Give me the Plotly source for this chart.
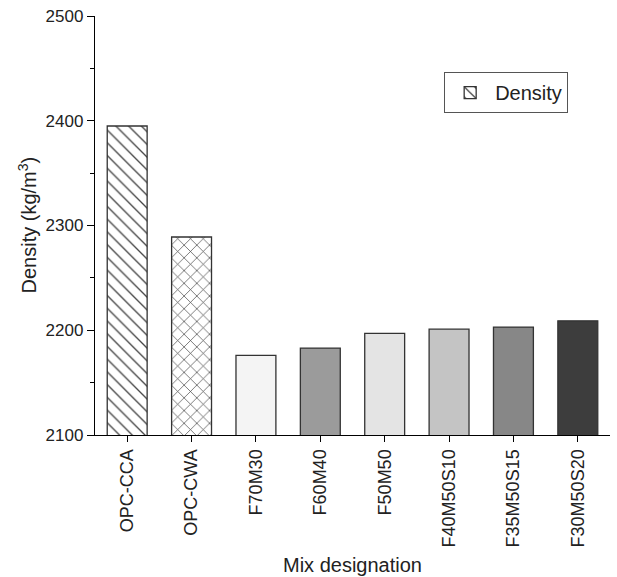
import plotly.graph_objects as go

categories = ["OPC-CCA", "OPC-CWA", "F70M30", "F60M40", "F50M50", "F40M50S10", "F35M50S15", "F30M50S20"]
density = [2395, 2289, 2176, 2183, 2197, 2201, 2203, 2209]
fill_colors = ["white", "white", "#f4f4f4", "#9b9b9b", "#e4e4e4", "#c4c4c4", "#878787", "#3d3d3d"]
patterns = ["\\", "x", "", "", "", "", "", ""]

fig = go.Figure()
fig.add_trace(go.Bar(
    x=categories, y=density, name="Density", width=0.62,
    marker=dict(color=fill_colors, line=dict(color="#333333", width=1.3),
                pattern=dict(shape=patterns, fgcolor="#111111", fgopacity=1, bgcolor="white",
                             size=9, solidity=0.15)),
    showlegend=True,
))

font = "Liberation Sans, Arial, sans-serif"
fig.update_layout(
    width=617, height=577,
    margin=dict(l=95, r=7, t=16, b=142),
    plot_bgcolor="white", paper_bgcolor="white",
    font=dict(family=font, size=17, color="#222222"),
    showlegend=True,
    legend=dict(x=0.678, y=0.866, xanchor="left", yanchor="top",
                bordercolor="#555555", borderwidth=1, bgcolor="white",
                font=dict(size=20), itemwidth=40, tracegroupgap=0),
    xaxis=dict(showline=True, linecolor="black", linewidth=1.3,
               ticks="outside", ticklen=6, tickcolor="black", tickangle=-90,
               tickfont=dict(size=18), automargin=False,
               showgrid=False),
    yaxis=dict(range=[2100, 2500], dtick=100, tick0=2100,
               showline=True, linecolor="black", linewidth=1.3,
               ticks="outside", ticklen=7, tickcolor="black",
               minor=dict(ticks="outside", ticklen=4, dtick=50, tickcolor="black"),
               automargin=False,
               showgrid=False, zeroline=False),
    bargap=0.38,
    annotations=[
        dict(text="Mix designation", xref="paper", yref="paper", x=0.5, y=0,
             yshift=-130, xanchor="center", yanchor="middle", showarrow=False,
             font=dict(size=20)),
        dict(text="Density (kg/m<sup>3</sup>)", xref="paper", yref="paper", x=0, y=0.5,
             xshift=-68, xanchor="center", yanchor="middle", showarrow=False,
             textangle=-90, font=dict(size=20)),
    ],
)

fig.write_html("out.html", config={"displayModeBar": False},
               post_script="document.body.style.margin='0';")
